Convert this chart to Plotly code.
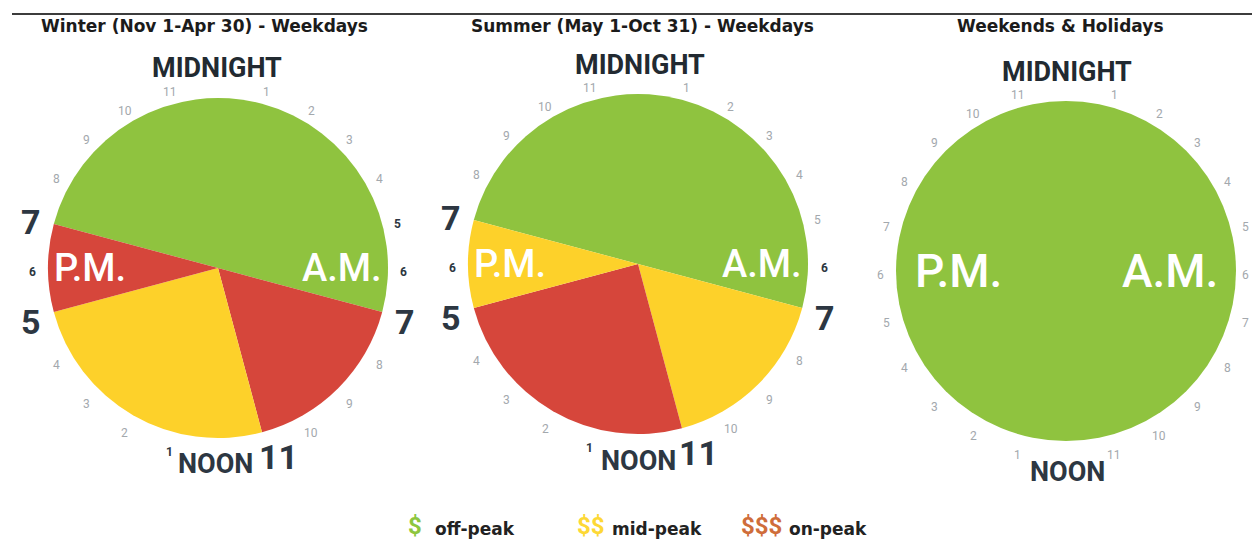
import math
import plotly.graph_objects as go

W, H = 1252, 542

# ---------------- data ----------------
clock_titles = ["Winter (Nov 1-Apr 30) - Weekdays",
                "Summer (May 1-Oct 31) - Weekdays",
                "Weekends & Holidays"]

winter_periods = ["Off-peak 7 PM–7 AM", "On-peak 7–11 AM", "Mid-peak 11 AM–5 PM", "On-peak 5–7 PM"]
winter_tiers = ["off", "on", "mid", "on"]
winter_hours = [12, 4, 6, 2]
winter_start_hour = 19

summer_periods = ["Off-peak 7 PM–7 AM", "Mid-peak 7–11 AM", "On-peak 11 AM–5 PM", "Mid-peak 5–7 PM"]
summer_tiers = ["off", "mid", "on", "mid"]
summer_hours = [12, 4, 6, 2]
summer_start_hour = 19

weekend_periods = ["Off-peak all day"]
weekend_tiers = ["off"]
weekend_hours = [24]
weekend_start_hour = 0

tier_names = ["off", "mid", "on"]
tier_symbols = ["$", "$$", "$$$"]
tier_labels = ["off-peak", "mid-peak", "on-peak"]

# hours highlighted as period boundaries (24h clock) on each dial
winter_marked_hours = [7, 11, 17, 19]
summer_marked_hours = [7, 11, 17, 19]
weekend_marked_hours = []

# ---------------- style ----------------
pie_colors = {"off": "#8fc33f", "mid": "#fdd12a", "on": "#d6463b"}
legend_colors = {"off": "#8dc63f", "mid": "#fdd835", "on": "#cf6d3a"}
COND = "Roboto, Liberation Sans Narrow, sans-serif"
HEAVY = "DejaVu Sans, Liberation Sans, sans-serif"
DARK = "#2d3742"
GRAY = "#a3a8ad"
dark_small = [[5, 6, 13, 18], [6, 13, 18], []]

def px(x):
    return x / W

def py(y):
    return 1 - y / H

centers = [(218, 268), (638, 264), (1066, 271)]
R = 170
clocks = [
    (winter_periods, winter_tiers, winter_hours, winter_start_hour, winter_marked_hours),
    (summer_periods, summer_tiers, summer_hours, summer_start_hour, summer_marked_hours),
    (weekend_periods, weekend_tiers, weekend_hours, weekend_start_hour, weekend_marked_hours),
]

fig = go.Figure()
annotations = []

def ann(x, y, text, size, color, family=COND, weight="normal", xanchor="center"):
    annotations.append(dict(x=px(x), y=py(y), xref="paper", yref="paper", text=text,
                            showarrow=False, xanchor=xanchor, yanchor="middle",
                            font=dict(size=size, color=color, family=family, weight=weight)))

title_pos = [(204, 26), (642, 26), (1060, 26)]
midnight_pos = [(217, 68), (640, 65), (1067, 72)]
noon_pos = [(215, 464), (638, 461), (1067, 472)]
ampm_size = [38, 38, 46]
ampm_dx = [124, 124, 104]

for i, (periods, tiers, hours, start, marked) in enumerate(clocks):
    cx, cy = centers[i]
    fig.add_trace(go.Pie(
        labels=periods, values=hours, sort=False, direction="clockwise",
        rotation=start * 15, textinfo="none", showlegend=False,
        marker=dict(colors=[pie_colors[t] for t in tiers], line=dict(width=0)),
        hovertemplate="%{label}<br>%{value} h<extra></extra>",
        domain=dict(x=[px(cx - R), px(cx + R)], y=[py(cy + R), py(cy - R)]),
    ))
    # titles
    ann(title_pos[i][0], title_pos[i][1], clock_titles[i], 17, "#1b1b1b", HEAVY, "bold")
    ann(midnight_pos[i][0], midnight_pos[i][1], "MIDNIGHT", 27, "#222a31", COND, "bold")
    ann(noon_pos[i][0], noon_pos[i][1], "NOON", 27, DARK, COND, "bold")
    # A.M. / P.M.
    ann(cx + ampm_dx[i], cy, "A.M.", ampm_size[i], "white", COND, 500)
    ann(cx - ampm_dx[i] - 4, cy, "P.M.", ampm_size[i], "white", COND, 500)
    # hour numbers
    for h in range(1, 24):
        if h == 12:
            continue
        lab = str(h if h < 12 else h - 12)
        ang = math.radians(h * 15)
        if h in marked:
            if h == 11:
                x, y = cx + 60, cy + 189
            else:
                r = 194
                x = cx + r * math.sin(ang)
                y = cy - r * math.cos(ang) + 4
            ann(x, y, lab, 34, DARK, COND, "bold")
        else:
            r = 186
            x = min(cx + r * math.sin(ang), W - 7)
            y = cy - r * math.cos(ang) + 4
            dark = h in dark_small[i]
            ann(x, y, lab, 12, DARK if dark else GRAY, COND, "bold" if dark else "normal")

# legend
leg_sym_x = [415, 591, 761]
leg_txt_x = [435, 612, 789]
for k, t in enumerate(tier_names):
    ann(leg_sym_x[k], 526, tier_symbols[k], 24, legend_colors[t], COND, "bold")
    ann(leg_txt_x[k] - 2, 529, tier_labels[k], 17, "#222222", HEAVY, "bold", xanchor="left")

fig.update_layout(
    width=W, height=H,
    margin=dict(l=0, r=0, t=0, b=0),
    paper_bgcolor="white", plot_bgcolor="white",
    annotations=annotations,
    shapes=[dict(type="line", xref="paper", yref="paper",
                 x0=px(12), x1=1, y0=py(14), y1=py(14),
                 line=dict(color="#3c3c3c", width=2))],
)

fig.write_html("out.html", config={"displayModeBar": False},
               post_script="document.body.style.margin='0';document.body.style.overflow='hidden';")
